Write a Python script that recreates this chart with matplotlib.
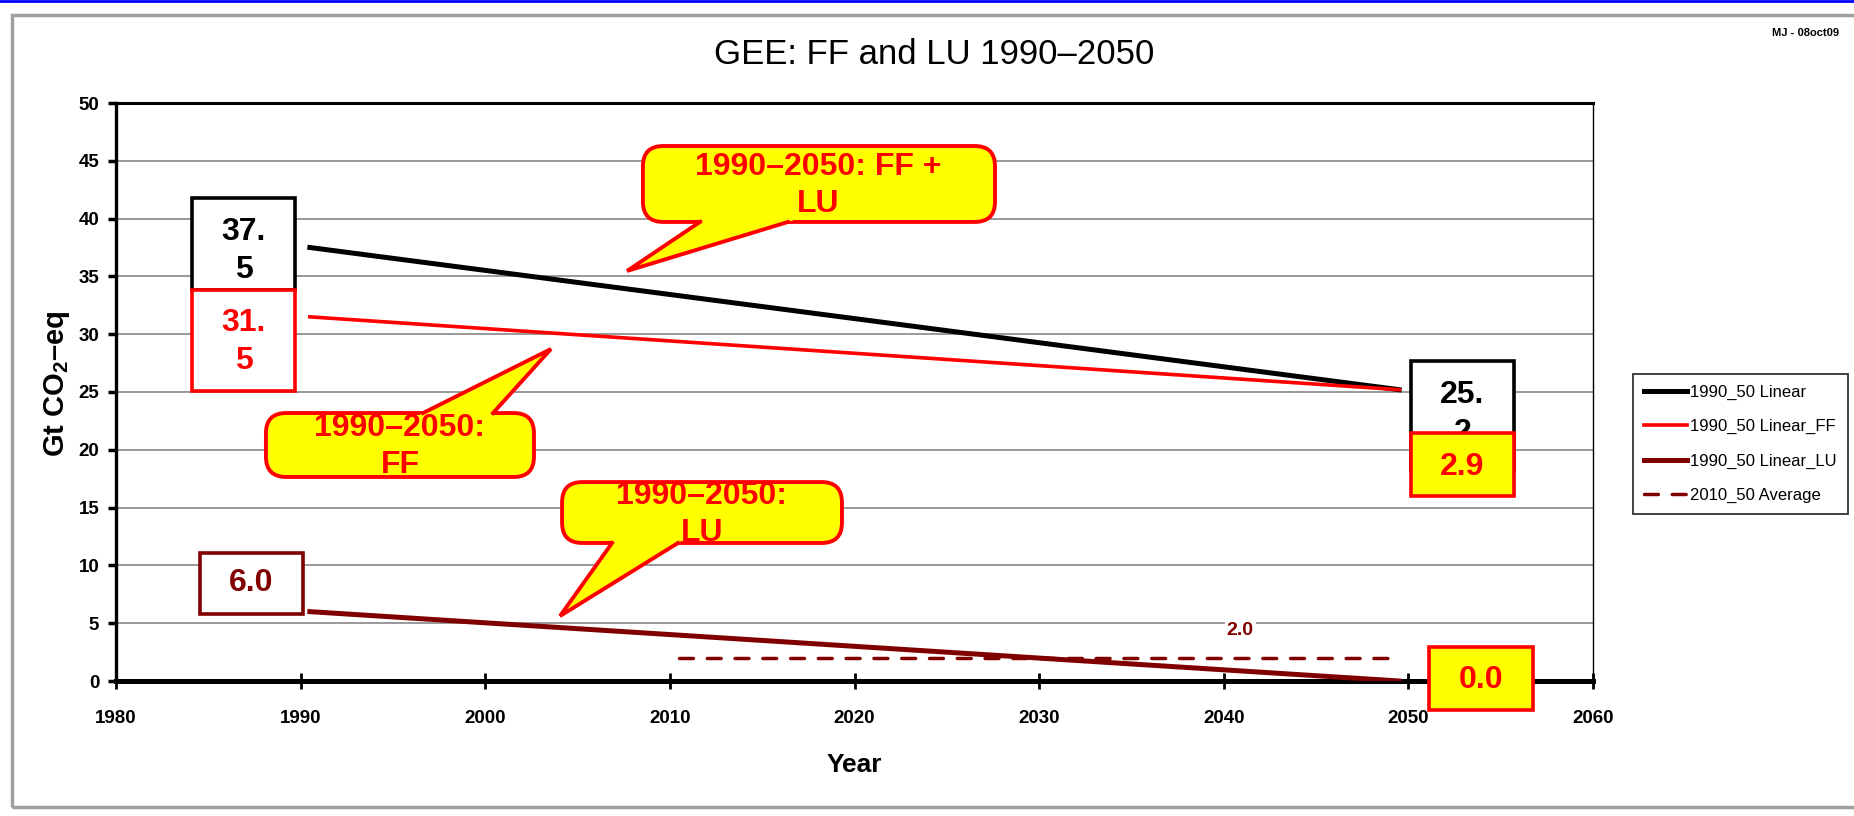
import matplotlib
matplotlib.use("Agg")
import matplotlib.pyplot as plt
from matplotlib.patches import FancyBboxPatch, Rectangle, Polygon
from matplotlib.lines import Line2D

plt.rcParams['font.family'] = ['Liberation Sans', 'DejaVu Sans']
plt.rcParams['mathtext.fontset'] = 'custom'
plt.rcParams['mathtext.rm'] = 'Liberation Sans:bold'
plt.rcParams['mathtext.bf'] = 'Liberation Sans:bold'

# data (Gt CO2-eq), years
years = [1990.5, 2049.5]
linear_total = [37.5, 25.2]
linear_ff = [31.5, 25.2]
linear_lu = [6.0, 0.0]
avg_years = [2010.5, 2049.5]
avg_lu = [2.0, 2.0]
series_names = ['1990_50 Linear', '1990_50 Linear_FF',
                '1990_50 Linear_LU', '2010_50 Average']

RED = '#FF0000'
DRED = '#800000'
YEL = '#FFFF00'

W, H = 1854, 816
fig = plt.figure(figsize=(W / 100, H / 100), dpi=100)

# outer frame + blue line on top
fig.add_artist(Rectangle((12 / W, 9 / H), 1.1, 792 / H, transform=fig.transFigure,
                         fill=False, ec='#a0a0a0', lw=2.5))
fig.add_artist(Line2D([0, 1], [1 - 1 / H] * 2, transform=fig.transFigure,
                      color='#0000FF', lw=2))

ax = fig.add_axes([116 / W, 135 / H, 1477 / W, 578 / H])

l1, = ax.plot(years, linear_total, color='black', lw=3.6, zorder=3)
l2, = ax.plot(years, linear_ff, color=RED, lw=2.6, zorder=3)
l3, = ax.plot(years, linear_lu, color=DRED, lw=3.6, zorder=3)
l4, = ax.plot(avg_years, avg_lu, color=DRED, lw=2.5, ls=(0, (4, 4)),
              dash_capstyle='round', zorder=3)

ax.set_xlim(1980, 2060)
ax.set_ylim(0, 50)
ax.set_xticks(range(1980, 2061, 10))
ax.set_yticks(range(0, 51, 5))
ax.grid(axis='y', color='#999999', lw=1.4)
ax.set_axisbelow(True)

ax.spines['left'].set_linewidth(2.4)
ax.spines['bottom'].set_linewidth(3.6)
ax.spines['top'].set_linewidth(2.2)
ax.spines['right'].set_linewidth(1.0)
ax.tick_params(axis='x', direction='inout', length=12, width=2, pad=15, labelsize=13.5)
ax.tick_params(axis='y', direction='out', length=6, width=2.5, pad=6, labelsize=13.5)
for lab in ax.get_xticklabels() + ax.get_yticklabels():
    lab.set_fontweight('bold')

ax.set_xlabel('Year', fontsize=19, fontweight='bold', va='center')
ax.xaxis.set_label_coords(0.5, -0.145)
ax.set_ylabel(r'Gt CO$_\mathbf{2}$–eq', fontsize=21, fontweight='bold', va='center')
ax.yaxis.set_label_coords(-0.040, 0.514)

fig.text(934 / W, 1 - 55 / H, 'GEE: FF and LU 1990–2050', ha='center', va='center',
         fontsize=25)
fig.text(1806 / W, 1 - 33 / H, 'MJ - 08oct09', ha='center', va='center',
         fontsize=8, fontweight='bold')

leg = fig.legend([l1, l2, l3, l4], series_names, loc='upper left',
                 bbox_to_anchor=(1633 / W, 1 - 374 / H), fontsize=12,
                 frameon=True, fancybox=False, edgecolor='black',
                 handlelength=2.6, handletextpad=0.2, labelspacing=1.15,
                 borderpad=0.65, borderaxespad=0)
leg.get_frame().set_linewidth(1.3)


# value boxes next to the line ends
def value_box(x0, x1, y0, y1, label, tx, ty, color, face='white', z=6):
    ax.add_patch(Rectangle((x0, y0), x1 - x0, y1 - y0, fc=face, ec=color, lw=2.6,
                           zorder=z, clip_on=False))
    ax.text(tx, ty, label, color=color, fontsize=23, fontweight='bold',
            ha='center', va='center', multialignment='center', linespacing=1.35,
            zorder=z, clip_on=False)


value_box(1984.12, 1989.70, 33.82, 41.78, '37.\n5', 1986.9, 37.2, 'black')
value_box(1984.12, 1989.70, 25.09, 33.82, '31.\n5', 1986.9, 29.33, RED)
value_box(1984.55, 1990.13, 5.80, 11.07, '6.0', 1987.34, 8.48, DRED)
value_box(2050.14, 2055.72, 18.25, 27.68, '25.\n2', 2052.93, 23.1, 'black')
value_box(2050.14, 2055.72, 16.00, 21.45, '2.9', 2052.93, 18.54, RED, face=YEL, z=7)
value_box(2051.12, 2056.75, -2.51, 2.94, '0.0', 2053.93, 0.09, RED, face=YEL, z=8)

ax.text(2040.9, 4.4, '2.0', color=DRED, fontsize=14, fontweight='bold',
        ha='center', va='center', zorder=4,
        bbox=dict(fc='white', ec='none', pad=1.5))

ASPECT = 18.46 / 11.56  # y units per px over x units per px


def callout(x0, x1, y0, y1, base, tip, label, tx, ty):
    box = FancyBboxPatch((x0, y0), x1 - x0, y1 - y0,
                         boxstyle='round,pad=0,rounding_size=1.1',
                         mutation_aspect=ASPECT, fc=YEL, ec=RED, lw=2.8, zorder=7)
    ax.add_patch(box)
    bx0, bx1, by = base
    k = 0.6 / abs(by - tip[1])
    p0 = (bx0 + (bx0 - tip[0]) * k, by + (by - tip[1]) * k)
    p1 = (bx1 + (bx1 - tip[0]) * k, by + (by - tip[1]) * k)
    ax.add_patch(Polygon([p0, (bx0, by), tip, (bx1, by), p1], closed=True,
                         fc=YEL, ec='none', zorder=8))
    ax.plot([bx0, tip[0], bx1], [by, tip[1], by], color=RED, lw=2.8, zorder=9,
            solid_joinstyle='miter')
    ax.text(tx, ty, label, color=RED, fontsize=23, fontweight='bold',
            ha='center', va='center', multialignment='center', linespacing=1.3,
            zorder=10, clip_on=True, clip_path=box)


callout(2008.54, 2027.61, 39.71, 46.28, (2011.63, 2016.40, 39.71), (2007.68, 35.47),
        '1990–2050: FF +\nLU', 2018.02, 42.86)
callout(1988.12, 2002.64, 17.65, 23.18, (1996.63, 2000.42, 23.18), (2003.56, 28.72),
        '1990–2050:\nFF', 1995.38, 20.29)
callout(2004.16, 2019.32, 11.94, 17.21, (2006.87, 2010.44, 11.94), (2004.05, 5.62),
        '1990–2050:\nLU', 2011.74, 14.40)

fig.savefig('out.png', dpi=100)
